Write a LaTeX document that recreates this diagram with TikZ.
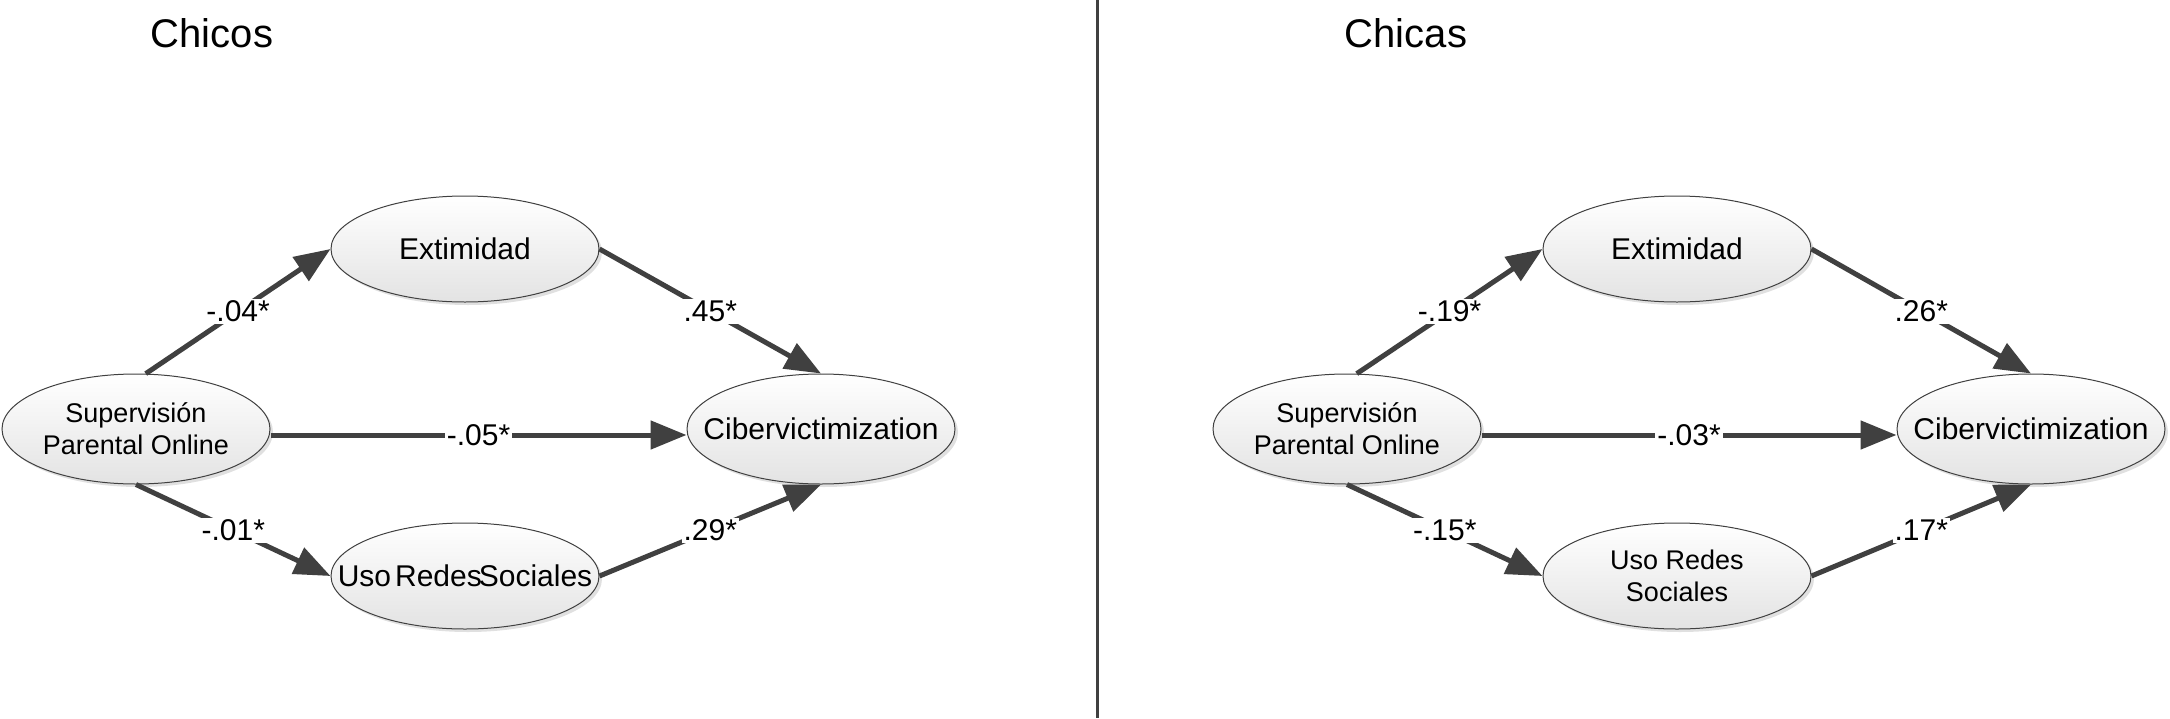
\documentclass[tikz,border=0pt]{standalone}
\usepackage{fontspec}
\setmainfont{Liberation Sans}
\usetikzlibrary{arrows.meta,shapes.geometric,shadows}
\definecolor{pathgray}{HTML}{404040}
\tikzset{
  latent/.style={ellipse, draw=pathgray, line width=0.5pt, minimum width=134pt,
                 minimum height=55pt, inner sep=0pt, top color=white, bottom color=black!11,
                 drop shadow={shadow xshift=1.5pt, shadow yshift=-1.5pt, fill=black!30, opacity=0.4}},
  vname/.style={font=\fontsize{15}{16}\selectfont, align=center},
  vname2/.style={font=\fontsize{13.5}{16}\selectfont, align=center},
  effect/.style={-{Triangle[length=18pt,width=14pt]}, line width=2.5pt, draw=pathgray},
  coef/.style={fill=white, inner sep=1pt, font=\fontsize{15}{16}\selectfont},
  paneltitle/.style={font=\fontsize{20}{22}\selectfont}
}

\begin{document}
\begin{tikzpicture}[x=0.5pt, y={(0,-0.5pt)}]
  \useasboundingbox (0,0) rectangle (2170,718);
  % boys
  \node[paneltitle] (tboys) at (212,33) {Chicos};
  \node[latent, label={[vname2]center:Supervisión\\Parental Online}] (supB) at (136,429) {};
  \node[latent, minimum height=53pt, label={[vname]center:Extimidad}] (extB) at (465,249) {};
  \node[latent, minimum height=53pt,
        label={[vname]center:Uso\hspace{2pt}Redes\hspace{-1.5pt}Sociales}] (usoB) at (465,576) {};
  \node[latent, label={[vname]center:Cibervictimization}] (cibB) at (821,429) {};
  \draw[effect] (supB.80) -- node[coef]{-.04*} (extB.west);
  \draw[effect] ([yshift=-3pt]supB.east) -- node[coef]{-.05*} ([yshift=-3pt]cibB.west);
  \draw[effect] (supB.south) -- node[coef]{-.01*} (usoB.west);
  \draw[effect] (extB.east) -- node[coef]{.45*} (cibB.north);
  \draw[effect] (usoB.east) -- node[coef]{.29*} (cibB.south);
  % divider
  \draw[pathgray, line width=1.5pt] (1097,0) -- (1097,718);
  % girls
  \node[paneltitle] (tgirls) at (1406,33) {Chicas};
  \node[latent, label={[vname2]center:Supervisión\\Parental Online}] (supG) at (1347,429) {};
  \node[latent, minimum height=53pt, label={[vname]center:Extimidad}] (extG) at (1677,249) {};
  \node[latent, minimum height=53pt, label={[vname2]center:Uso Redes\\Sociales}] (usoG) at (1677,576) {};
  \node[latent, label={[vname]center:Cibervictimization}] (cibG) at (2031,429) {};
  \draw[effect] (supG.80) -- node[coef]{-.19*} (extG.west);
  \draw[effect] ([yshift=-3pt]supG.east) -- node[coef]{-.03*} ([yshift=-3pt]cibG.west);
  \draw[effect] (supG.south) -- node[coef]{-.15*} (usoG.west);
  \draw[effect] (extG.east) -- node[coef]{.26*} (cibG.north);
  \draw[effect] (usoG.east) -- node[coef]{.17*} (cibG.south);
\end{tikzpicture}
\end{document}
